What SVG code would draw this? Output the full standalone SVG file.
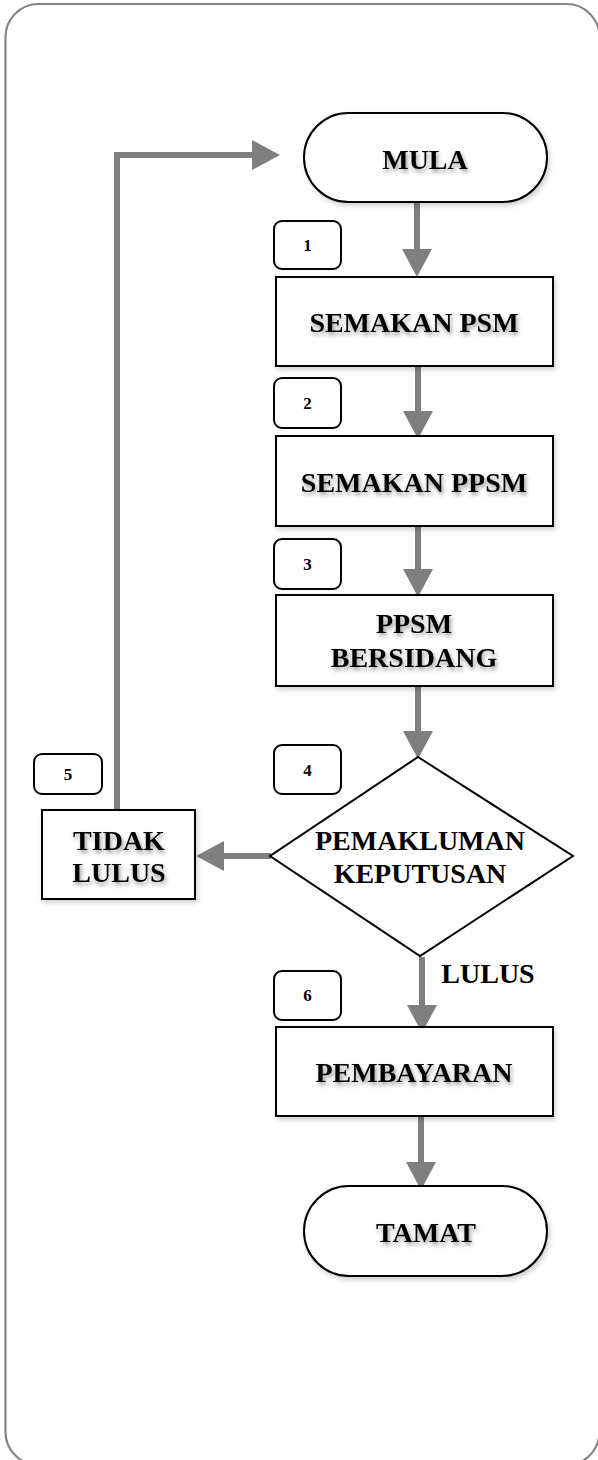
<svg xmlns="http://www.w3.org/2000/svg" width="598" height="1460" viewBox="0 0 598 1460">
  <style>
    .frame { fill: #ffffff; stroke: #858585; stroke-width: 2.2; }
    .shape { fill: #ffffff; stroke: #000000; stroke-width: 2; }
    .tag { fill: #ffffff; stroke: #000000; stroke-width: 2; }
    .label { font-family: "Liberation Serif", "Times New Roman", serif; font-weight: bold; font-size: 28px; fill: #000000; text-anchor: middle; }
    .num { font-family: "Liberation Serif", "Times New Roman", serif; font-weight: bold; font-size: 17px; fill: #000000; text-anchor: middle; }
    .flow { fill: none; stroke: #7f7f7f; stroke-width: 6; }
  </style>
  <defs>
    <filter id="boxShadow" x="-10%" y="-10%" width="125%" height="130%">
      <feDropShadow dx="2" dy="3" stdDeviation="2.5" flood-color="#000000" flood-opacity="0.18"/>
    </filter>
    <filter id="textShadow" x="-10%" y="-30%" width="125%" height="170%">
      <feDropShadow dx="1.5" dy="3" stdDeviation="2" flood-color="#000000" flood-opacity="0.4"/>
    </filter>
    <marker id="head" markerUnits="userSpaceOnUse" markerWidth="28" markerHeight="30" refX="0" refY="15" orient="auto">
      <path d="M0,0 L28,15 L0,30 z" fill="#7f7f7f"/>
    </marker>
  </defs>

  <!-- outer frame -->
  <rect class="frame" x="5.5" y="4" width="594" height="1461" rx="33" ry="33"/>

  <!-- connectors -->
  <g id="connectors">
    <path class="flow" d="M417,202 V249" marker-end="url(#head)"/>
    <path class="flow" d="M418,366 V411" marker-end="url(#head)"/>
    <path class="flow" d="M418,526 V569" marker-end="url(#head)"/>
    <path class="flow" d="M418,686 V731" marker-end="url(#head)"/>
    <path class="flow" d="M271,856 H224" marker-end="url(#head)"/>
    <path class="flow" d="M117,810 V155 H252" marker-end="url(#head)"/>
    <path class="flow" d="M422,957 V1005" marker-end="url(#head)"/>
    <path class="flow" d="M421,1116 V1162" marker-end="url(#head)"/>
  </g>

  <!-- start -->
  <g id="mula">
    <rect class="shape" x="304" y="113" width="243" height="89" rx="44.5" ry="44.5" filter="url(#boxShadow)"/>
    <text class="label" x="425" y="169" filter="url(#textShadow)">MULA</text>
  </g>

  <!-- step 1 -->
  <g id="tag1">
    <rect class="tag" x="274" y="221" width="67" height="48" rx="8" ry="8"/>
    <text class="num" x="307.5" y="251">1</text>
  </g>
  <g id="semakan-psm">
    <rect class="shape" x="276" y="277" width="277" height="89" filter="url(#boxShadow)"/>
    <text class="label" x="414" y="332" filter="url(#textShadow)">SEMAKAN PSM</text>
  </g>

  <!-- step 2 -->
  <g id="tag2">
    <rect class="tag" x="274" y="378" width="67" height="50" rx="8" ry="8"/>
    <text class="num" x="307.5" y="409">2</text>
  </g>
  <g id="semakan-ppsm">
    <rect class="shape" x="276" y="436" width="277" height="90" filter="url(#boxShadow)"/>
    <text class="label" x="414" y="492" filter="url(#textShadow)">SEMAKAN PPSM</text>
  </g>

  <!-- step 3 -->
  <g id="tag3">
    <rect class="tag" x="274" y="539" width="67" height="50" rx="8" ry="8"/>
    <text class="num" x="307.5" y="570">3</text>
  </g>
  <g id="ppsm-bersidang">
    <rect class="shape" x="276" y="595" width="277" height="91" filter="url(#boxShadow)"/>
    <text class="label" x="414" y="633" filter="url(#textShadow)">PPSM</text>
    <text class="label" x="414" y="667" filter="url(#textShadow)">BERSIDANG</text>
  </g>

  <!-- step 4 -->
  <g id="tag4">
    <rect class="tag" x="274" y="745" width="67" height="49" rx="8" ry="8"/>
    <text class="num" x="307.5" y="776">4</text>
  </g>
  <g id="pemakluman-keputusan">
    <polygon class="shape" points="418,757 573,856 420,956 270,856"/>
    <text class="label" x="420" y="850">PEMAKLUMAN</text>
    <text class="label" x="420" y="883">KEPUTUSAN</text>
  </g>

  <!-- step 5 -->
  <g id="tag5">
    <rect class="tag" x="34" y="754" width="68" height="40" rx="8" ry="8"/>
    <text class="num" x="68" y="780">5</text>
  </g>
  <g id="tidak-lulus">
    <rect class="shape" x="42" y="810" width="153" height="89" filter="url(#boxShadow)"/>
    <text class="label" x="119" y="850" filter="url(#textShadow)">TIDAK</text>
    <text class="label" x="119" y="882" filter="url(#textShadow)">LULUS</text>
  </g>

  <!-- branch label -->
  <g id="lulus-label">
    <text class="label" x="488" y="983">LULUS</text>
  </g>

  <!-- step 6 -->
  <g id="tag6">
    <rect class="tag" x="274" y="971" width="67" height="49" rx="8" ry="8"/>
    <text class="num" x="307.5" y="1001">6</text>
  </g>
  <g id="pembayaran">
    <rect class="shape" x="276" y="1027" width="277" height="89" filter="url(#boxShadow)"/>
    <text class="label" x="414" y="1082" filter="url(#textShadow)">PEMBAYARAN</text>
  </g>

  <!-- end -->
  <g id="tamat">
    <rect class="shape" x="304" y="1186" width="243" height="90" rx="45" ry="45" filter="url(#boxShadow)"/>
    <text class="label" x="426" y="1242" filter="url(#textShadow)">TAMAT</text>
  </g>
</svg>
